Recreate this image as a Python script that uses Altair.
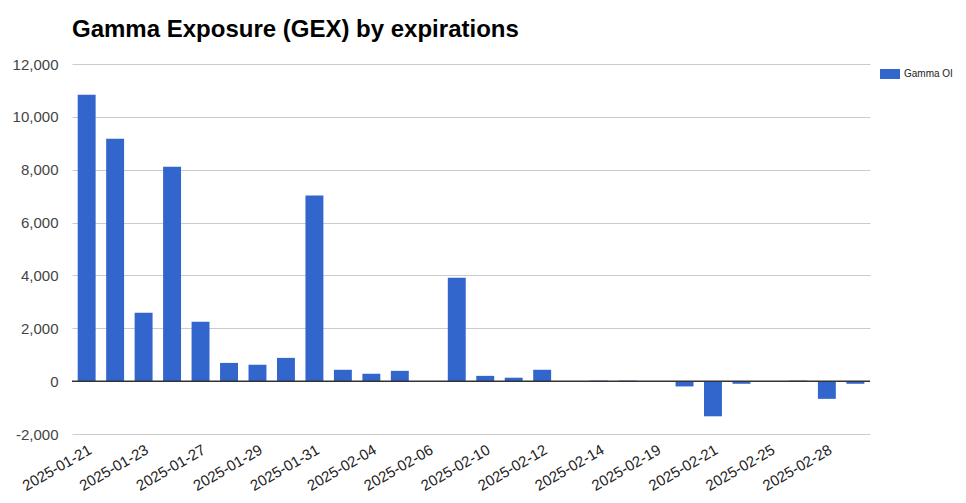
import altair as alt
import pandas as pd

dates = [
    "2025-01-21", "2025-01-22", "2025-01-23", "2025-01-24", "2025-01-27", "2025-01-28",
    "2025-01-29", "2025-01-30", "2025-01-31", "2025-02-03", "2025-02-04", "2025-02-05",
    "2025-02-06", "2025-02-07", "2025-02-10", "2025-02-11", "2025-02-12", "2025-02-13",
    "2025-02-14", "2025-02-18", "2025-02-19", "2025-02-20", "2025-02-21", "2025-02-24",
    "2025-02-25", "2025-02-27", "2025-02-28", "2025-03-03",
]
gamma_oi = [
    10840, 9170, 2590, 8110, 2250, 690,
    620, 880, 7020, 430, 280, 390,
    0, 3910, 200, 130, 430, -20,
    20, 20, -20, -200, -1330, -100,
    -20, 20, -670, -100,
]
series_name = "Gamma OI"
label_dates = dates[::2]
y_ticks = list(range(-2000, 12001, 1000))

df = pd.DataFrame({"date": dates, "gex": gamma_oi, "series": [series_name] * len(dates)})

FONT = "Liberation Sans"

bars = alt.Chart(df).mark_bar().encode(
    x=alt.X(
        "date:N",
        sort=dates,
        scale=alt.Scale(paddingInner=0.37, paddingOuter=0.2),
        axis=alt.Axis(
            values=label_dates, labelAngle=-30, labelAlign="right", labelBaseline="top",
            ticks=False, domain=False, labelPadding=8, labelFontSize=15,
            labelColor="#222222", title=None, grid=False, labelFont=FONT,
        ),
    ),
    y=alt.Y(
        "gex:Q",
        scale=alt.Scale(domain=[-2000, 12000], nice=False),
        axis=alt.Axis(
            values=y_ticks,
            labelExpr="datum.value % 2000 === 0 ? ((datum.value < 0 ? '-' : '') + format(abs(datum.value), ',')) : ''",
            gridColor=alt.condition("datum.value % 2000 === 0", alt.value("#cccccc"), alt.value("#ebebeb")),
            ticks=False, domain=False, labelPadding=14, labelFontSize=15,
            labelColor="#444444", title=None, labelFont=FONT,
        ),
    ),
    color=alt.Color(
        "series:N",
        scale=alt.Scale(range=["#3366cc"]),
        legend=alt.Legend(
            orient="none", legendX=808, legendY=0, title=None,
            symbolType="M-1,-0.5H1V0.5H-1Z", symbolSize=400, symbolStrokeWidth=0,
            labelFontSize=10, labelColor="#222222", labelFont=FONT, symbolOpacity=1,
        ),
    ),
)

zero = alt.Chart(pd.DataFrame({"v": [0]})).mark_rule(color="#333333", strokeWidth=1.5).encode(y="v:Q")

chart = alt.layer(bars, zero).properties(
    width=798,
    height=370,
    padding={"left": 64, "top": 56, "right": 88, "bottom": 61},
    autosize=alt.AutoSizeParams(type="none"),
    title=alt.Title(
        "Gamma Exposure (GEX) by expirations", anchor="start", frame="group", fontSize=24,
        font=FONT, fontWeight="bold", color="#000000", offset=15,
    ),
).configure_view(stroke=None)

chart.save("out.html", embed_options={"renderer": "svg", "actions": False})
